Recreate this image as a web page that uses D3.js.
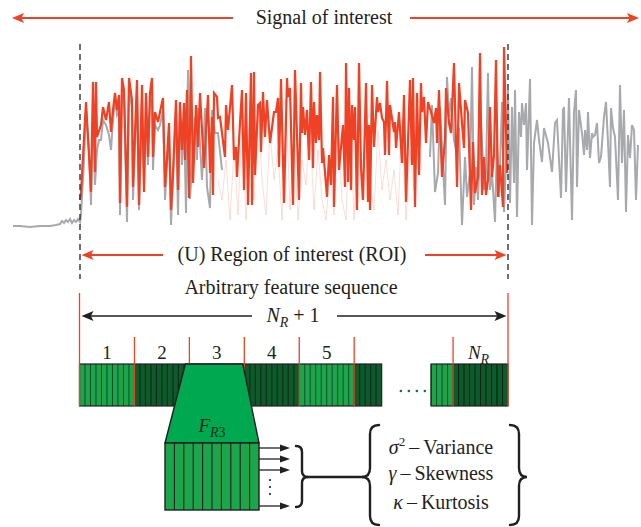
<!DOCTYPE html>
<html><head><meta charset="utf-8">
<script src="https://cdn.jsdelivr.net/npm/d3@7"></script>
<style>
body{margin:0;background:#fff}
svg{display:block}
text{font-family:"Liberation Serif","Times New Roman",serif;fill:#231f20}
</style>
</head><body>
<svg id="c" width="641" height="527"></svg>
<script>
// ---------- DATA (time sample, amplitude) ----------
const grayLeft = [[0,4],[7,4],[17,3],[27,4],[37,4],[43,5],[47,6],[49,9],[51,7],[53,10],[55,8],[57,11],[59,7],[61,10],[63,8],[65,11],[67,8],
[68,15],[71,70],[73,120],[76,80],[78,25],[80,130],[82,45],[84,80],[86,90],[88,90],[90,110],[93,105],[96,95],[98,80],[100,110],[102,130],[104,115],[106,120],[107,15],[109,135],[111,135],[114,8],[116,145],[119,120],[120,30],[124,140],[126,20],[129,130],[131,45],[133,130],[135,65],[137,130],[139,130],[140,60],[142,105],[145,100],[147,105],[150,120],[152,30],[154,65],[156,95],[158,5],[160,50],[163,120],[165,15],[167,120],[169,65],[171,115],[173,17],[175,160],[177,31],[180,80],[182,113],[184,70],[185,122],[189,50],[192,122],[194,43],[197,22],[199,120],[202,97],[205,97],[209,60]];
const grayRight = [[417,73],[419,125],[422,38],[425,57],[427,123],[432,25],[434,153],[436,113],[438,132],[441,90],[443,80],[446,102],[449,5],[452,73],[454,33],[457,57],[459,163],[461,25],[463,63],[465,30],[468,110],[471,40],[473,57],[475,157],[477,40],[479,57],[482,8],[484,90],[486,33],[489,128],[491,18],[494,90],
[495,140],[497,27],[499,123],[501,47],[502,140],[504,13],[506,118],[508,93],[509,127],[511,105],[513,127],[514,60],[517,151],[519,5],[521,87],[524,110],[526,90],[529,68],[531,102],[535,87],[539,58],[542,107],[544,110],[548,32],[550,120],[551,123],[553,38],[556,132],[559,10],[561,118],[563,140],[564,43],[566,120],[569,97],[571,75],[572,100],[574,80],[575,118],[577,72],[579,97],[580,93],[582,95],[584,107],[586,67],[588,73],[591,113],[593,128],[595,88],[597,43],[598,122],[600,102],[602,93],[605,30],[607,145],[609,67],[611,120],[613,18],[615,95],[617,72],[619,105],[621,100],[623,30],[625,85]];
const faintSignal = [[205,50],[209,30],[213,70],[217,10],[221,80],[225,15],[229,110],[233,10],[237,90],[241,30],[245,120],[249,50],[253,15],[257,100],[261,50],[265,80],[269,10],[273,130],[277,20],[281,100],[285,10],[289,70],[293,45],[297,100],[301,20],[305,80],[309,30],[313,10],[317,60],[321,15],[325,100],[329,30],[333,10],[337,120],[341,10],[345,90],[349,30],[353,110],[357,45],[361,20],[365,100],[369,40],[373,70],[377,30],[381,60],[385,15],[389,110],[393,10],[397,80],[401,40],[405,90],[409,60]];
const roiSignal = [[67,30],[68,37],[73,128],[78,38],[80,148],[82,58],[83,148],[84,93],[88,105],[90,123],[93,110],[96,128],[98,98],[100,120],[102,137],[104,120],[106,135],[107,27],[109,152],[111,140],[114,23],[116,152],[119,130],[120,43],[124,150],[126,25],[129,145],[131,38],[133,137],[135,73],[137,137],[139,152],[140,73],[142,118],[145,108],[147,118],[150,132],[152,43],[154,72],[156,107],[158,20],[160,57],[163,130],[165,40],[167,128],[169,80],[171,127],[172,70],[174,140],[176,32],[178,174],[180,47],[183,125],[185,83],[187,137],[191,62],[195,135],[197,57],[199,113],[200,35],[201,137],[204,133],[205,112],[207,113],[212,73],[213,125],[215,100],[219,145],[221,70],[223,83],[224,53],[227,107],[229,140],[231,40],[233,137],[235,25],[238,157],[239,25],[241,158],[242,55],[245,125],[247,127],[248,78],[250,138],[252,93],[254,130],[257,87],[261,118],[263,118],[265,132],[266,63],[268,151],[271,27],[274,152],[275,133],[277,142],[280,25],[282,160],[286,30],[288,147],[289,97],[290,123],[292,95],[294,120],[296,70],[298,148],[300,62],[301,128],[303,87],[304,115],[306,90],[307,158],[309,67],[310,82],[314,33],[316,75],[318,45],[320,133],[321,23],[324,145],[326,60],[330,105],[332,43],[333,167],[335,48],[336,142],[338,40],[339,125],[341,90],[342,123],[344,20],[346,167],[348,63],[350,30],[353,147],[355,28],[356,105],[357,20],[359,145],[361,83],[364,133],[365,118],[367,127],[369,112],[371,108],[372,75],[374,149],[376,75],[377,125],[381,98],[382,108],[383,82],[386,118],[389,67],[391,135],[393,28],[395,88],[397,150],[399,65],[400,152],[402,23],[404,137],[406,55],[408,147],[409,118],[411,133],[413,87],[415,128],[418,118],[421,107],[423,122],[424,87],[426,140],[429,53],[432,92],[433,142],[436,107],[438,97],[441,167],[444,43],[446,147],[449,107],[451,82],[452,130],[455,117],[458,20],[460,88],[462,37],[465,53],[467,177],[469,35],[471,73],[473,35],[475,50],[477,123],[479,53],[481,75],[483,170],[485,33],[487,65],[490,23],[491,183],[494,57]];
const roiBounds = [67, 495];
const segmentLabels = ["1","2","3","4","5"];
const cellsPerSegment = 10;
const totalCells = 78;
const barPieces = [[0,55],[64,78]];
const lastSegmentStart = 68;
const statNames = [["σ","2","Variance"],["γ","","Skewness"],["κ","","Kurtosis"]];
const zoomCells = 10;

// ---------- SETUP ----------
const svg = d3.select("#c");
const RED = "#ef4123", GRAY = "#a7a9ac";
const BRIGHT = "#1ca64c", DARK = "#0d5a2b", TRAP = "#00a84f";
const x = d3.scaleLinear().domain([0,625]).range([13,638]);
const y = d3.scaleLinear().domain([0,190]).range([230,40]);
const line = d3.line().x(d=>x(d[0])).y(d=>y(d[1]));

function arrowHead(g, tipX, tipY, dir, len, hw, color){
  g.append("path")
    .attr("d",`M${tipX},${tipY}L${tipX-dir*len},${tipY-hw}L${tipX-dir*len*0.78},${tipY}L${tipX-dir*len},${tipY+hw}Z`)
    .attr("fill",color);
}
function dblArrow(yy, x0, x1, gapL, gapR, color, w){
  const g = svg.append("g");
  g.append("line").attr("x1",x0+4).attr("x2",gapL).attr("y1",yy).attr("y2",yy).attr("stroke",color).attr("stroke-width",w);
  g.append("line").attr("x1",gapR).attr("x2",x1-4).attr("y1",yy).attr("y2",yy).attr("stroke",color).attr("stroke-width",w);
  arrowHead(g,x0,yy,-1,12,5,color);
  arrowHead(g,x1,yy,1,12,5,color);
}

// ---------- SIGNAL ----------
svg.append("path").attr("d",line(grayLeft)).attr("fill","none").attr("stroke",GRAY).attr("stroke-width",2);
svg.append("path").attr("d",line(grayRight)).attr("fill","none").attr("stroke",GRAY).attr("stroke-width",2);
svg.append("path").attr("d",line(faintSignal)).attr("fill","none").attr("stroke",RED).attr("stroke-opacity",0.18).attr("stroke-width",1);
svg.append("path").attr("d",line(roiSignal)).attr("fill","none").attr("stroke",RED).attr("stroke-width",2.2);

const xL = x(roiBounds[0]), xR = x(roiBounds[1]);
[xL, xR].forEach(xx=>{
  svg.append("line").attr("x1",xx).attr("x2",xx).attr("y1",44).attr("y2",279)
    .attr("stroke","#333").attr("stroke-width",1.4).attr("stroke-dasharray","6,4");
});

// ---------- TOP LABELS ----------
dblArrow(18, 12, 639, 233, 410, RED, 2);
svg.append("text").attr("x",324).attr("y",24).attr("text-anchor","middle").attr("font-size",20).text("Signal of interest");

dblArrow(255, xL+1.5, xR-1.5, 163, 425, RED, 2);
svg.append("text").attr("x",292).attr("y",261).attr("text-anchor","middle").attr("font-size",20).text("(U) Region of interest (ROI)");
svg.append("text").attr("x",291).attr("y",294).attr("text-anchor","middle").attr("font-size",20).text("Arbitrary feature sequence");

dblArrow(316, xL+1.5, xR-1.5, 252, 337, "#231f20", 1.6);
const nr = svg.append("text").attr("x",293).attr("y",322).attr("text-anchor","middle").attr("font-size",20);
nr.append("tspan").attr("font-style","italic").text("N");
nr.append("tspan").attr("font-style","italic").attr("font-size",14).attr("dy",5).text("R");
nr.append("tspan").attr("dy",-5).text(" + 1");

// ---------- FEATURE BAR ----------
const barTop = 364, barBot = 406;
const cx = d3.scaleLinear().domain([0,totalCells]).range([xL-0.5, xR]);
const cells = [];
barPieces.forEach(([a,b])=>{ for(let i=a;i<b;i++) cells.push(i); });
const shade = i => i < 60 ? (Math.floor(i/cellsPerSegment)%2===0 ? BRIGHT : DARK) : (i < lastSegmentStart ? BRIGHT : DARK);
svg.append("g").selectAll("rect").data(cells).join("rect")
  .attr("x",i=>cx(i)).attr("y",barTop).attr("width",i=>cx(i+1)-cx(i)).attr("height",barBot-barTop)
  .attr("fill",shade);
svg.append("g").selectAll("line").data(cells).join("line")
  .attr("x1",i=>cx(i)).attr("x2",i=>cx(i)).attr("y1",barTop).attr("y2",barBot)
  .attr("stroke",i=>shade(i)===BRIGHT?"#0c4a22":"#05210f").attr("stroke-width",1);
barPieces.forEach(([a,b])=>{
  svg.append("rect").attr("x",cx(a)).attr("y",barTop).attr("width",cx(b)-cx(a)).attr("height",barBot-barTop)
    .attr("fill","none").attr("stroke","#231f20").attr("stroke-width",1.2);
});
// segment dividers
const dividers = d3.range(0, 60, cellsPerSegment).concat([lastSegmentStart, totalCells]);
svg.append("g").selectAll("line").data(dividers).join("line")
  .attr("x1",i=>cx(i)).attr("x2",i=>cx(i))
  .attr("y1",i=>(i===0||i===totalCells)?293:337).attr("y2",barBot)
  .attr("stroke",RED).attr("stroke-width",1.3);
// segment labels
svg.append("g").selectAll("text").data(segmentLabels).join("text")
  .attr("x",(d,i)=>cx(i*cellsPerSegment+cellsPerSegment/2)).attr("y",359)
  .attr("text-anchor","middle").attr("font-size",19).text(d=>d);
const nlab = svg.append("text").attr("x",cx(lastSegmentStart+5)-2).attr("y",359).attr("text-anchor","middle").attr("font-size",19);
nlab.append("tspan").attr("font-style","italic").text("N");
nlab.append("tspan").attr("font-style","italic").attr("font-size",14).attr("dy",5).text("R");
// dots
svg.append("g").selectAll("circle").data([0,1,2,3]).join("circle")
  .attr("cx",d=>cx(58.5)+d*8).attr("cy",391).attr("r",1.3).attr("fill","#0b7a3b");

// ---------- ZOOM (trapezoid + window) ----------
const rL = 165, rR = 259, rT = 443, rB = 510;
svg.append("path")
  .attr("d",`M${cx(20)-4},${barTop}L${cx(30)-1.5},${barTop}L${rR},${rT}L${rL},${rT}Z`)
  .attr("fill",TRAP).attr("stroke","#231f20").attr("stroke-width",1.4).attr("stroke-linejoin","round");
const zx = d3.scaleLinear().domain([0,zoomCells]).range([rL,rR]);
svg.append("rect").attr("x",rL).attr("y",rT).attr("width",rR-rL).attr("height",rB-rT).attr("fill",BRIGHT);
svg.append("g").selectAll("line").data(d3.range(1,zoomCells)).join("line")
  .attr("x1",d=>zx(d)).attr("x2",d=>zx(d)).attr("y1",rT).attr("y2",rB).attr("stroke","#231f20").attr("stroke-width",1.1);
svg.append("rect").attr("x",rL).attr("y",rT).attr("width",rR-rL).attr("height",rB-rT).attr("fill","none").attr("stroke","#231f20").attr("stroke-width",1.4);
const fl = svg.append("text").attr("x",212).attr("y",432).attr("text-anchor","middle").attr("font-size",19).style("fill","#1e2a22");
fl.append("tspan").attr("font-style","italic").text("F");
fl.append("tspan").attr("font-style","italic").attr("font-size",14).attr("dy",5).text("R");
fl.append("tspan").attr("font-size",14).text("3");

// arrows out of window
const arrowYs = [448, 459, 470, 506];
const ag = svg.append("g");
arrowYs.forEach(yy=>{
  ag.append("line").attr("x1",rR).attr("x2",283).attr("y1",yy).attr("y2",yy).attr("stroke","#231f20").attr("stroke-width",1.3);
  ag.append("path").attr("d",`M290,${yy}L280,${yy-3.5}L280,${yy+3.5}Z`).attr("fill","#231f20");
});
[480,487,494].forEach(yy=>ag.append("circle").attr("cx",270).attr("cy",yy).attr("r",1.1).attr("fill","#231f20"));

// braces
const bs = {"fill":"none","stroke":"#231f20","stroke-width":2.4,"stroke-linecap":"round"};
function brace(d){ const p=svg.append("path").attr("d",d); Object.entries(bs).forEach(([k,v])=>p.attr(k,v)); }
brace("M296,446Q302,446 302,452L302,471Q302,477 308,477Q302,477 302,483L302,501Q302,507 296,507");
svg.append("line").attr("x1",307).attr("x2",363).attr("y1",477).attr("y2",477).attr("stroke","#231f20").attr("stroke-width",2.4);
brace("M379,425Q370,425 370,434L370,468Q370,477 362,477Q370,477 370,486L370,516Q370,525 379,525");
brace("M510,425Q519,425 519,434L519,468Q519,477 527,477Q519,477 519,486L519,516Q519,525 510,525");

const statYs = [454, 480, 509];
statNames.forEach(([sym,sup,name],i)=>{
  const t = svg.append("text").attr("x",441).attr("y",statYs[i]).attr("text-anchor","middle").attr("font-size",20);
  t.append("tspan").attr("font-style","italic").text(sym);
  if(sup){ t.append("tspan").attr("font-size",13).attr("dy",-8).text(sup); t.append("tspan").attr("dy",8).text("\u2009–\u2009"+name); }
  else t.append("tspan").text("\u2009–\u2009"+name);
});
</script>
</body></html>
